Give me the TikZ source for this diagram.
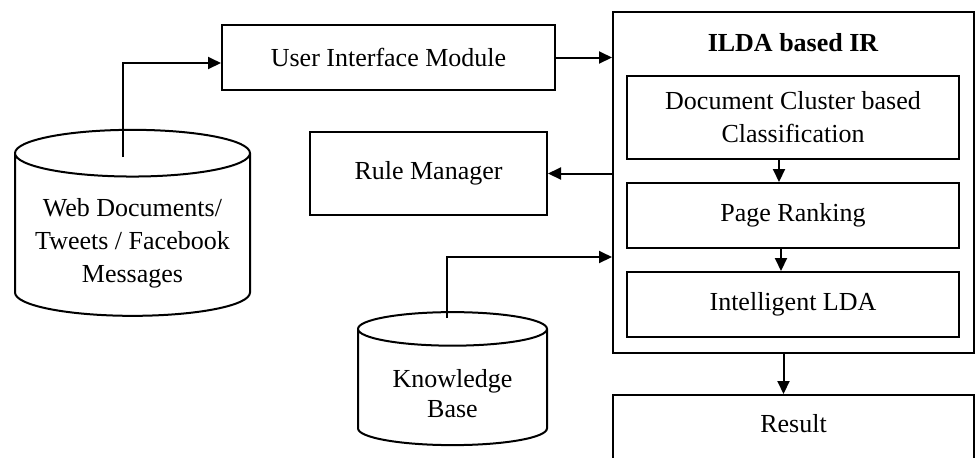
\documentclass[tikz,border=0pt]{standalone}
\usepackage{fontspec}
\setmainfont{Liberation Serif}
\usetikzlibrary{shapes.geometric, arrows.meta, positioning}

\begin{document}
\begin{tikzpicture}[x=0.5pt, y=-0.5pt, line width=1pt,
    font=\fontsize{13}{16.5}\selectfont,
    >={Triangle[length=6.5pt, width=6pt]},
    block/.style={draw, rectangle, align=center, inner sep=0pt},
    store/.style={draw, cylinder, shape border rotate=90, align=center, inner sep=0pt}]
    \useasboundingbox (0,0) rectangle (975,457);
    \clip (0,0) rectangle (975,457);

    % Sources on the left
    \node[store, minimum width=117.5pt, minimum height=93pt, aspect=0.24] (web) at (132.5, 235) {\rule{0pt}{17.5pt}Web Documents/\\Tweets / Facebook\\Messages};
    \node[store, minimum width=94.5pt, minimum height=66.5pt, aspect=0.28, font=\fontsize{13}{15}\selectfont] (kb) at (452.5, 387.5) {\rule{0pt}{15pt}Knowledge\\Base};

    % Modules
    \node[block, minimum width=166.5pt, minimum height=32.5pt] (ui) at (388.5, 57.5) {User Interface Module};
    \node[block, minimum width=118.5pt, minimum height=41.5pt] (rm) at (428.5, 173.5) {Rule Manager};

    % ILDA based IR with its stages
    \node[block, minimum width=180.5pt, minimum height=170.5pt] (ilda) at (793.5, 182.5) {};
    \node[font=\fontsize{13}{16.5}\selectfont\bfseries] (title) at (793, 43) {ILDA based IR};
    \node[block, minimum width=166pt, minimum height=41.5pt] (dcc) at (793, 117.5) {Document Cluster based\\Classification};
    \node[block, minimum width=166pt, minimum height=32.5pt] (pr) at (793, 215.5) {Page Ranking};
    \node[block, minimum width=166pt, minimum height=32.5pt] (lda) at (793, 304.5) {Intelligent LDA};

    % Result, cut off at the bottom
    \node[block, minimum width=180.5pt, minimum height=45pt, anchor=north] (result) at (793.5, 394) {Result\\~};

    % Connectors
    \coordinate (webtop) at (123, 157);
    \draw[->] (webtop) |- ([yshift=-2.75pt]ui.west);
    \draw[->] (ui.east) -- (ui.east -| ilda.west);
    \draw[->] (ilda.west |- rm.east) -- (rm.east);
    \coordinate (kbtop) at (447, 318);
    \coordinate (kbturn) at (447, 257);
    \draw[->] (kbtop) -- (kbturn) -- (kbturn -| ilda.west);
    \draw[->] ([xshift=-7pt]dcc.south) -- ([xshift=-7pt]pr.north);
    \draw[->] ([xshift=-6pt]pr.south) -- ([xshift=-6pt]lda.north);
    \draw[->] ([xshift=-5pt]ilda.south) -- ([xshift=-5pt]result.north);
\end{tikzpicture}
\end{document}
